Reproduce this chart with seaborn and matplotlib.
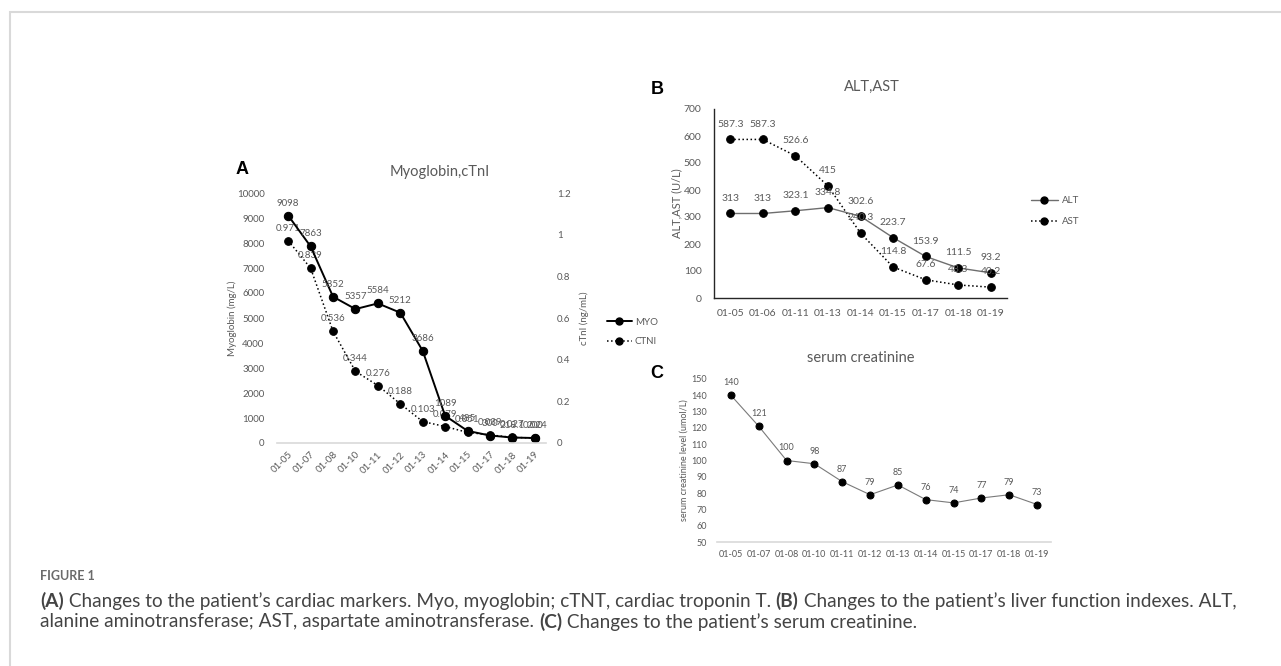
import numpy as np
import pandas as pd
import matplotlib
matplotlib.use("Agg")
import matplotlib.pyplot as plt
import seaborn as sns
from matplotlib.lines import Line2D

# ---------------- data ----------------
dates_a = ['01-05', '01-07', '01-08', '01-10', '01-11', '01-12',
           '01-13', '01-14', '01-15', '01-17', '01-18', '01-19']
myo = [9098, 7863, 5852, 5357, 5584, 5212, 3686, 1089, 485, 300, 218.1, 200]
ctni = [0.971, 0.839, 0.536, 0.344, 0.276, 0.188, 0.103, 0.079, 0.051, 0.039, 0.027, 0.024]
myo_ticks = [0, 1000, 2000, 3000, 4000, 5000, 6000, 7000, 8000, 9000, 10000]
ctni_ticks = [0, 0.2, 0.4, 0.6, 0.8, 1.0, 1.2]
ctni_ticklabels = ['0', '0.2', '0.4', '0.6', '0.8', '1', '1.2']

dates_b = ['01-05', '01-06', '01-11', '01-13', '01-14', '01-15', '01-17', '01-18', '01-19']
alt = [313, 313, 323.1, 334.8, 302.6, 223.7, 153.9, 111.5, 93.2]
ast = [587.3, 587.3, 526.6, 415, 240.3, 114.8, 67.6, 48.3, 40.2]
b_ticks = [0, 100, 200, 300, 400, 500, 600, 700]

dates_c = ['01-05', '01-07', '01-08', '01-10', '01-11', '01-12',
           '01-13', '01-14', '01-15', '01-17', '01-18', '01-19']
scr = [140, 121, 100, 98, 87, 79, 85, 76, 74, 77, 79, 73]
c_ticks = [50, 60, 70, 80, 90, 100, 110, 120, 130, 140, 150]

# ---------------- style ----------------
sns.set_theme(style="white")
plt.rcParams['font.family'] = ['Lato', 'DejaVu Sans']
GRAY = '#595959'
LGRAY = '#d9d9d9'

W, H = 1281, 666
fig = plt.figure(figsize=(W / 100, H / 100), dpi=100)
fig.patch.set_facecolor('white')


def rect(x0, y0, x1, y1):
    return [x0 / W, 1 - y1 / H, (x1 - x0) / W, (y1 - y0) / H]


def ftext(x, y, s, **kw):
    return fig.text(x / W, 1 - y / H, s, **kw)


def fmt(v):
    return '{:g}'.format(v)


def labels(ax, xs, ys, off=9, size=7):
    for x, y in zip(xs, ys):
        ax.annotate(fmt(y), (x, y), xytext=(0, off), textcoords='offset points',
                    ha='center', va='center', fontsize=size, color=GRAY)


# frame
frame = matplotlib.patches.Rectangle((10 / W, -0.1), 1.2, 1 - 12 / H + 0.1,
                                     transform=fig.transFigure, fill=False,
                                     edgecolor=LGRAY, linewidth=1.5)
fig.add_artist(frame)

# ---------------- Panel A ----------------
axA = fig.add_axes(rect(277, 193, 546, 443))
xa = np.arange(len(dates_a))
dfA = pd.DataFrame({'pos': xa, 'myo': myo, 'ctni': ctni})
axA2 = axA.twinx()
sns.lineplot(data=dfA, x='pos', y='ctni', ax=axA2, color='black', linestyle=':',
             linewidth=1.1, marker='o', markersize=5.5, markeredgecolor='black',
             estimator=None, legend=False)
sns.lineplot(data=dfA, x='pos', y='myo', ax=axA, color='black', linestyle='-',
             linewidth=1.4, marker='o', markersize=6, markeredgecolor='black',
             estimator=None, legend=False)
axA.set_zorder(3)
axA.patch.set_visible(False)
axA.set_xlim(-0.5, len(dates_a) - 0.5)
axA.set_ylim(0, 10000)
axA2.set_ylim(0, 1.2)
axA.set_yticks(myo_ticks)
axA.set_yticklabels([str(t) for t in myo_ticks])
axA2.set_yticks(ctni_ticks)
axA2.set_yticklabels(ctni_ticklabels)
axA.set_xticks(xa)
axA.set_xticklabels(dates_a, rotation=45, ha='right', rotation_mode='anchor')
for ax in (axA, axA2):
    for s in ax.spines.values():
        s.set_visible(False)
    ax.tick_params(length=0, labelsize=7, colors=GRAY)
    ax.set_xlabel('')
axA.spines['bottom'].set_visible(True)
axA.spines['bottom'].set_color(LGRAY)
axA.spines['bottom'].set_linewidth(1.2)
axA.tick_params(axis='y', pad=9)
axA.tick_params(axis='x', pad=5)
axA2.tick_params(axis='y', pad=8)
axA.set_ylabel('Myoglobin (mg/L)', fontsize=7, color=GRAY, labelpad=0)
axA2.set_ylabel('cTnI (ng/mL)', fontsize=7, color=GRAY, labelpad=6)
labels(axA, xa, myo)
labels(axA2, xa, ctni)
ftext(440, 172, 'Myoglobin,cTnI', fontsize=10.5, color=GRAY, ha='center', va='center')
ftext(242, 170, 'A', fontsize=13, fontweight='bold', color='black', ha='center', va='center',
      family='Liberation Sans')
hA = [Line2D([], [], color='black', lw=1.4, marker='o', ms=5, mec='black'),
      Line2D([], [], color='black', lw=1.1, ls=':', marker='o', ms=5, mec='black')]
fig.legend(hA, ['MYO', 'CTNI'], loc='center left', bbox_to_anchor=(598 / W, 1 - 332 / H),
           frameon=False, fontsize=7, labelcolor=GRAY, handlelength=2.6,
           handletextpad=0.3, labelspacing=1.05)

# ---------------- Panel B ----------------
axB = fig.add_axes(rect(714, 109, 1007, 298))
xb = np.arange(len(dates_b))
dfB = pd.DataFrame({'pos': xb, 'alt': alt, 'ast': ast})
sns.lineplot(data=dfB, x='pos', y='ast', ax=axB, color='black', linestyle=':',
             linewidth=1.1, marker='o', markersize=5.5, markeredgecolor='black',
             estimator=None, legend=False)
sns.lineplot(data=dfB, x='pos', y='alt', ax=axB, color='#6e6e6e', linestyle='-',
             linewidth=1.0, marker='o', markersize=5.5, markerfacecolor='black',
             markeredgecolor='black', estimator=None, legend=False)
axB.set_xlim(-0.5, len(dates_b) - 0.5)
axB.set_ylim(0, 700)
axB.set_yticks(b_ticks)
axB.set_yticklabels([str(t) for t in b_ticks])
axB.set_xticks(xb)
axB.set_xticklabels(dates_b)
axB.set_xticks(np.arange(len(dates_b) + 1) - 0.5, minor=True)
for s in ('top', 'right'):
    axB.spines[s].set_visible(False)
for s in ('left', 'bottom'):
    axB.spines[s].set_color('#262626')
    axB.spines[s].set_linewidth(1.0)
axB.tick_params(axis='x', which='major', length=0, labelsize=7.5, colors=GRAY, pad=8)
axB.tick_params(axis='x', which='minor', length=4, width=1, color='#262626', direction='out')
axB.tick_params(axis='y', length=4, width=1, color='#262626', direction='out',
                labelsize=7.5, labelcolor=GRAY, pad=5)
axB.set_xlabel('')
axB.set_ylabel('ALT,AST (U/L)', fontsize=8, color=GRAY, labelpad=1)
labels(axB, xb, alt, off=11, size=7.5)
labels(axB, xb, ast, off=11, size=7.5)
ftext(872, 87, 'ALT,AST', fontsize=10.5, color=GRAY, ha='center', va='center')
ftext(657, 89, 'B', fontsize=13, fontweight='bold', color='black', ha='center', va='center',
      family='Liberation Sans')
hB = [Line2D([], [], color='#6e6e6e', lw=1.0, marker='o', ms=5, mfc='black', mec='black'),
      Line2D([], [], color='black', lw=1.1, ls=':', marker='o', ms=5, mec='black')]
fig.legend(hB, ['ALT', 'AST'], loc='center left', bbox_to_anchor=(1022 / W, 1 - 211 / H),
           frameon=False, fontsize=7, labelcolor=GRAY, handlelength=2.8,
           handletextpad=0.4, labelspacing=1.25)

# ---------------- Panel C ----------------
axC = fig.add_axes(rect(717, 379, 1051, 542))
xc = np.arange(len(dates_c))
dfC = pd.DataFrame({'pos': xc, 'scr': scr})
sns.lineplot(data=dfC, x='pos', y='scr', ax=axC, color='#7a7a7a', linestyle='-',
             linewidth=0.8, marker='o', markersize=5, markerfacecolor='black',
             markeredgecolor='black', estimator=None, legend=False)
axC.set_xlim(-0.5, len(dates_c) - 0.5)
axC.set_ylim(50, 150)
axC.set_yticks(c_ticks)
axC.set_yticklabels([str(t) for t in c_ticks])
axC.set_xticks(xc)
axC.set_xticklabels(dates_c)
for s in axC.spines.values():
    s.set_visible(False)
axC.spines['bottom'].set_visible(True)
axC.spines['bottom'].set_color(LGRAY)
axC.spines['bottom'].set_linewidth(1.2)
axC.tick_params(length=0, labelsize=6.5, colors=GRAY)
axC.tick_params(axis='y', pad=7)
axC.tick_params(axis='x', pad=6)
axC.set_xlabel('')
axC.set_ylabel('serum creatinine level (umol/L)', fontsize=6.5, color=GRAY, labelpad=2)
labels(axC, xc, scr, off=9, size=6.5)
ftext(861, 358, 'serum creatinine', fontsize=10.5, color=GRAY, ha='center', va='center')
ftext(657, 374, 'C', fontsize=13, fontweight='bold', color='black', ha='center', va='center',
      family='Liberation Sans')

# ---------------- Caption ----------------
ftext(40, 576, 'FIGURE 1', fontsize=9, fontweight='bold', color='#6b6b6b', ha='left', va='center')

line1 = [('(A)', True), (' Changes to the patient\u2019s cardiac markers. Myo, myoglobin; cTNT, cardiac troponin T. ', False),
         ('(B)', True), (' Changes to the patient\u2019s liver function indexes. ALT,', False)]
line2 = [('alanine aminotransferase; AST, aspartate aminotransferase. ', False), ('(C)', True),
         (' Changes to the patient\u2019s serum creatinine.', False)]

renderer = fig.canvas.get_renderer()


def rich(x, y, parts, size, draw=True):
    cx = x
    arts = []
    for s, b in parts:
        t = ftext(cx, y, s, fontsize=size, fontweight='bold' if b else 'normal',
                  color='#444444', ha='left', va='center')
        cx += t.get_window_extent(renderer).width
        arts.append(t)
    if not draw:
        for t in arts:
            t.remove()
    return cx - x


w = rich(40, 601, line1, 10, draw=False)
size = 10 * 1200 / w
rich(40, 601, line1, size)
rich(40, 622, line2, size)

fig.savefig('out.png', dpi=100, facecolor='white')
